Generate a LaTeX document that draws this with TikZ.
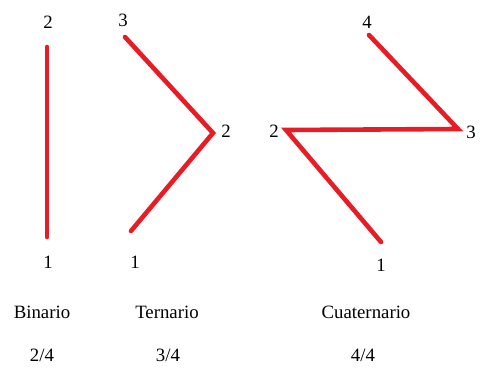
\documentclass[tikz,border=0pt]{standalone}
\usepackage{fontspec}
\setmainfont{Liberation Serif}
\usepackage{tikz}
\usetikzlibrary{positioning}

\definecolor{beatred}{RGB}{232,28,36}

\begin{document}
\begin{tikzpicture}[
    x=0.5pt, y=-0.5pt,
    num/.style={inner sep=0pt, font=\fontsize{9.4}{11}\selectfont},
    lbl/.style={inner sep=0pt, font=\fontsize{9.4}{11}\selectfont},
    beat/.style={draw=beatred, line width=2.3pt, line cap=round, line join=miter},
]
\useasboundingbox (0,0) rectangle (482,369);
% binario
\coordinate (b1) at (47,237);
\coordinate (b2) at (47,47);
\node[num] (nb2) at (48,22) {2};
\node[num] (nb1) at (48,262) {1};
\draw[beat] (b1) -- (b2);
% ternario
\coordinate (t1) at (131,231);
\coordinate (t2) at (213,133);
\coordinate (t3) at (125,37);
\node[num] (nt3) at (123,20) {3};
\node[num] (nt2) at (226,131) {2};
\node[num] (nt1) at (135,262) {1};
\draw[beat] (t1) -- (t2) -- (t3);
% cuaternario
\coordinate (c1) at (381,242);
\coordinate (c2) at (286,130);
\coordinate (c3) at (458,129);
\coordinate (c4) at (369,35);
\node[num] (nc4) at (367,22) {4};
\node[num] (nc3) at (471,132) {3};
\node[num] (nc2) at (274,131) {2};
\node[num] (nc1) at (381,265) {1};
\draw[beat] (c1) -- (c2) -- (c3) -- (c4);
% nombres y compases
\node[lbl] (bin) at (42,312) {Binario};
\node[lbl] (ter) at (167,312) {Ternario};
\node[lbl] (cua) at (366,312) {Cuaternario};
\node[lbl] (cb) at (42,355) {2/4};
\node[lbl] (ct) at (168,355) {3/4};
\node[lbl] (cc) at (363,355) {4/4};
\end{tikzpicture}
\end{document}
